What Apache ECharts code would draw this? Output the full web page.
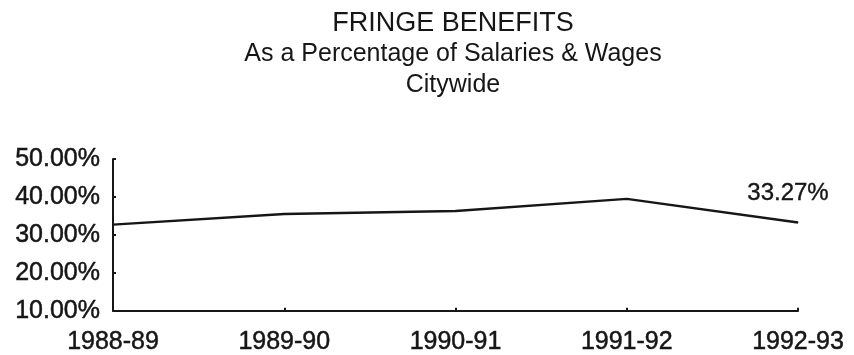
<!DOCTYPE html>
<html>
<head>
<meta charset="utf-8">
<script src="https://cdn.jsdelivr.net/npm/echarts@6/dist/echarts.min.js"></script>
<style>
  html, body { margin: 0; padding: 0; background: #fff; }
  #chart { width: 854px; height: 355px; }
</style>
</head>
<body>
<div id="chart"></div>
<script>
// Fiscal years on the category axis
const fiscalYears = ['1988-89', '1989-90', '1990-91', '1991-92', '1992-93'];
// Fringe benefits as a percentage of salaries & wages, citywide
const fringePct = [32.7, 35.5, 36.3, 39.5, 33.27];
// Value axis range and step (percent)
const yMin = 10, yMax = 50, yStep = 10;
// Only the latest year carries a value label
const labelledIndex = fringePct.length - 1;

const ink = '#161616';
const font = 'Liberation Sans, Arial, sans-serif';

const chart = echarts.init(document.getElementById('chart'), null, { renderer: 'canvas' });

chart.setOption({
  backgroundColor: '#ffffff',
  animation: false,
  title: {
    text: '{h|FRINGE BENEFITS}\n{s|As a Percentage of Salaries & Wages}\n{s|Citywide}',
    left: 448,
    textAlign: 'center',
    top: 3,
    textStyle: {
      fontFamily: font,
      fontWeight: 'normal',
      color: ink,
      lineHeight: 31,
      rich: {
        h: { fontFamily: font, fontWeight: 'normal', fontSize: 27, color: ink, lineHeight: 31 },
        s: { fontFamily: font, fontWeight: 'normal', fontSize: 25, color: ink, lineHeight: 31 }
      }
    }
  },
  grid: { left: 113, right: 56, top: 159, bottom: 43, containLabel: false },
  xAxis: {
    type: 'category',
    data: fiscalYears,
    boundaryGap: false,
    axisLine: { lineStyle: { color: ink, width: 2 } },
    axisTick: { show: true, inside: true, length: 3, alignWithLabel: true, lineStyle: { color: ink, width: 2 } },
    axisLabel: {
      fontFamily: font, fontSize: 25, color: ink, margin: 19,
      textBorderColor: ink, textBorderWidth: 0.5
    },
    splitLine: { show: false }
  },
  yAxis: {
    type: 'value',
    min: yMin,
    max: yMax,
    interval: yStep,
    axisLine: { show: true, lineStyle: { color: ink, width: 2 } },
    axisTick: { show: true, inside: true, length: 3, lineStyle: { color: ink, width: 2 } },
    axisLabel: {
      fontFamily: font,
      fontSize: 25,
      color: ink,
      margin: 13,
      textBorderColor: ink,
      textBorderWidth: 0.5,
      formatter: v => v.toFixed(2) + '%'
    },
    splitLine: { show: false }
  },
  series: [{
    type: 'line',
    data: fringePct.map((v, i) => ({
      value: v,
      label: i === labelledIndex ? {
        show: true,
        position: 'top',
        distance: 17,
        offset: [-10, 0],
        fontFamily: font,
        fontSize: 24,
        color: ink,
        textBorderColor: ink,
        textBorderWidth: 0.4,
        formatter: p => p.value.toFixed(2) + '%'
      } : { show: false }
    })),
    showSymbol: true,
    symbol: 'circle',
    symbolSize: 1,
    itemStyle: { color: ink },
    lineStyle: { color: ink, width: 2.4 },
    z: 3
  }]
});
</script>
</body>
</html>
